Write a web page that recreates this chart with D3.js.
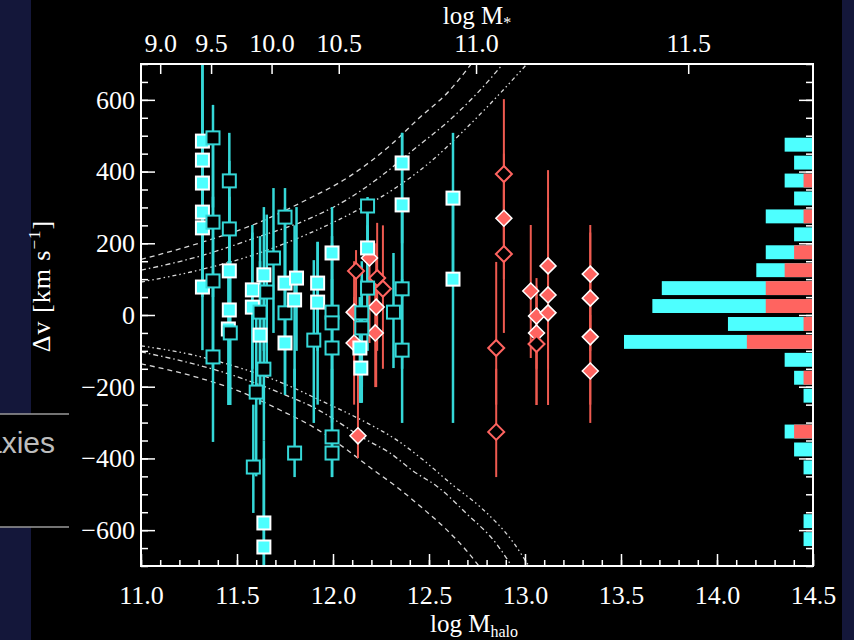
<!DOCTYPE html>
<html><head><meta charset="utf-8">
<script src="https://cdn.jsdelivr.net/npm/d3@7"></script>
<style>body{margin:0;background:#000;overflow:hidden} svg{display:block}</style>
</head><body>
<svg id="c" width="854" height="640"></svg>
<script>
// ---------- data ----------
const xTicks = [11.0, 11.5, 12.0, 12.5, 13.0, 13.5, 14.0, 14.5];
const yTicks = [-600, -400, -200, 0, 200, 400, 600];
const topTickLabels = ["9.0", "9.5", "10.0", "10.5", "11.0", "11.5"];
const topTickHalo = [11.10, 11.365, 11.68, 12.03, 12.745, 13.85];

// cyan squares: [log Mhalo, dv, filled, errLo, errHi]
const cyanPoints = [
  [11.32, 485, 1, 300, 720], [11.32, 432, 1, 250, 700], [11.32, 368, 1, 150, 600],
  [11.32, 287, 1, 100, 500], [11.32, 243, 1, 50, 450], [11.32, 78, 1, -98, 300],
  [11.375, 494, 0, 300, 586], [11.375, 259, 0, 50, 480], [11.375, 95, 0, -150, 330], [11.375, -117, 0, -354, 100],
  [11.46, 374, 0, 230, 508], [11.46, 240, 0, 50, 430], [11.46, 123, 1, -80, 330],
  [11.46, 14, 1, -200, 220], [11.455, -39, 1, -251, 150], [11.465, -50, 0, -251, 150],
  [11.58, 70, 1, -150, 251], [11.58, 22, 1, -200, 230], [11.60, -215, 0, -450, 0], [11.585, -424, 0, -552, -250],
  [11.64, 112, 1, -100, 301], [11.655, 64, 0, -150, 280], [11.62, 8, 0, -200, 220], [11.62, -56, 1, -250, 150],
  [11.64, -151, 0, -350, 50], [11.64, -580, 1, -700, -350], [11.64, -647, 1, -700, -400],
  [11.69, 159, 0, -50, 354],
  [11.75, 273, 0, 100, 354], [11.75, 89, 1, -100, 300], [11.75, 6, 0, -200, 200], [11.75, -78, 1, -223, 100],
  [11.81, 103, 1, -100, 301], [11.80, 42, 1, -200, 250], [11.80, -385, 0, -452, -150],
  [11.92, 89, 1, -100, 204], [11.92, 36, 1, -250, 204], [11.90, -70, 0, -301, 153],
  [11.995, 173, 1, 0, 301], [11.995, 8, 0, -200, 220], [11.995, -22, 0, -250, 200], [11.995, -92, 0, -300, 100],
  [11.995, -340, 0, -452, -150], [11.995, -385, 0, -452, -200],
  [12.18, 304, 0, 100, 329], [12.18, 187, 1, 0, 300], [12.18, 75, 0, -100, 250],
  [12.15, 6, 0, -200, 150], [12.15, -36, 0, -245, 100], [12.14, -92, 1, -245, 50], [12.145, -148, 1, -245, 0],
  [12.36, 424, 1, 200, 508], [12.36, 307, 1, 50, 508], [12.36, 73, 0, -150, 300], [12.36, -98, 0, -301, 100],
  [12.315, 8, 0, -148, 173],
  [12.625, 326, 1, 100, 508], [12.625, 100, 1, -301, 326]
];

// red diamonds: [log Mhalo, dv, filled, errLo, errHi]
const redPoints = [
  [12.12, 123, 0, -50, 181], [12.11, 8, 1, -150, 150], [12.11, -78, 1, -250, 50], [12.13, -337, 1, -399, -150],
  [12.19, 159, 1, -78, 200],
  [12.23, 103, 0, -100, 257], [12.26, 73, 0, -150, 250], [12.225, 22, 1, -201, 200], [12.22, -50, 1, -201, 100],
  [12.85, -92, 0, -250, 148], [12.85, -326, 0, -452, -150],
  [12.89, 393, 0, 200, 602], [12.89, 270, 1, 100, 450], [12.89, 170, 0, -50, 350],
  [13.03, 67, 1, -120, 251],
  [13.06, -3, 1, -150, 103], [13.06, -50, 1, -251, 80], [13.06, -81, 0, -251, 50],
  [13.12, 137, 1, 0, 404], [13.12, 56, 1, -150, 300], [13.12, 6, 1, -251, 200],
  [13.34, 114, 1, -50, 251], [13.34, 47, 1, -100, 230], [13.34, -61, 1, -250, 100], [13.34, -156, 1, -301, 0]
];

// envelope curves: [log Mhalo, dv]
const curveOuterUp = [[11.0,155],[11.3,200],[11.6,255],[11.85,318],[12.09,388],[12.3,474],[12.45,550],[12.6,622],[12.72,700]];
const curveMidUp = [[11.0,125],[11.3,163],[11.6,216],[11.86,265],[12.07,321],[12.245,385],[12.417,460],[12.625,552],[12.766,627],[12.885,700]];
const curveInUp = [[11.0,92],[11.3,125],[11.6,170],[11.865,225],[12.09,282],[12.333,357],[12.505,426],[12.677,512],[12.833,597],[13.01,700]];
const curveInLow = [[11.0,-86],[11.3,-115],[11.5,-145],[11.724,-187],[11.93,-237],[12.177,-301],[12.333,-349],[12.469,-404],[12.625,-475],[12.766,-535],[12.94,-635],[13.02,-700]];
const curveMidLow = [[11.0,-103],[11.3,-140],[11.5,-172],[11.724,-217],[11.896,-257],[12.177,-349],[12.297,-385],[12.417,-435],[12.542,-478],[12.698,-555],[12.854,-640],[12.93,-700]];
const curveOutLow = [[11.0,-136],[11.3,-175],[11.5,-210],[11.724,-265],[11.896,-312],[12.073,-376],[12.19,-424],[12.333,-480],[12.469,-540],[12.594,-600],[12.7,-660],[12.76,-700]];

// histogram of dv (bin lower edge, total count, red count)
const histLo =    [450, 400, 350, 300, 250, 200, 150, 100, 50, 0, -50, -100, -150, -200, -250, -350, -400, -450, -600, -650];
const histTotal = [3,   2,   3,   2,   5,   2,   5,   6,   16, 17, 9,  20,   3,    2,    1,    3,    2,    1,    1,    1];
const histRed =   [0,   0,   1,   0,   1,   0,   2,   3,   5,  5,  1,  7,    0,    1,    0,    2,    0,    0,    0,    0];

// ---------- drawing ----------
const svg = d3.select("#c");
const W = 854, H = 640;
const L = 141, R = 813, T = 64, B = 566;
const x = d3.scaleLinear().domain([11, 14.5]).range([L, R]);
const y = d3.scaleLinear().domain([-700, 700]).range([B, T]);
const serif = "'Liberation Serif','Times New Roman',serif";
const CY = "#4dffff", CYL = "#35d8d8", RD = "#ff6460", RDL = "#ee5a50";

svg.append("rect").attr("width", W).attr("height", H).attr("fill", "#000");
// slide background strips
svg.append("rect").attr("x", 0).attr("y", 0).attr("width", 31).attr("height", H).attr("fill", "#14173a");
svg.append("rect").attr("x", 842).attr("y", 0).attr("width", 12).attr("height", H).attr("fill", "#14173a");
svg.append("rect").attr("x", 0).attr("y", 414).attr("width", 69).attr("height", 113).attr("fill", "#000");
svg.append("line").attr("x1", 0).attr("x2", 69).attr("y1", 414).attr("y2", 414).attr("stroke", "#9a9a9a").attr("stroke-width", 1.5);
svg.append("line").attr("x1", 0).attr("x2", 69).attr("y1", 527).attr("y2", 527).attr("stroke", "#9a9a9a").attr("stroke-width", 1.5);
svg.append("text").attr("x", 55).attr("y", 453).attr("text-anchor", "end")
  .attr("font-family", "'Liberation Sans',Arial,sans-serif").attr("font-size", 30).attr("fill", "#bdbdbd").text("Galaxies");

const plot = svg.append("g");
svg.append("clipPath").attr("id", "clip").append("rect").attr("x", L).attr("y", T).attr("width", R - L).attr("height", B - T);
const inner = plot.append("g").attr("clip-path", "url(#clip)");

// histogram
const hx = d3.scaleLinear().domain([0, 1]).range([0, 9.45]);
const bins = histLo.map((lo, i) => ({lo, total: histTotal[i], red: histRed[i]}));
inner.selectAll(".hc").data(bins).join("rect")
  .attr("x", d => R - hx(d.total)).attr("width", d => hx(d.total))
  .attr("y", d => y(d.lo + 50) + 2).attr("height", d => y(d.lo) - y(d.lo + 50) - 4)
  .attr("fill", CY);
inner.selectAll(".hr").data(bins.filter(d => d.red > 0)).join("rect")
  .attr("x", d => R - hx(d.red)).attr("width", d => hx(d.red))
  .attr("y", d => y(d.lo + 50) + 2).attr("height", d => y(d.lo) - y(d.lo + 50) - 4)
  .attr("fill", RD);

// curves
const line = d3.line().x(d => x(d[0])).y(d => y(d[1])).curve(d3.curveMonotoneX);
const curves = [
  [curveOuterUp, "5,4"], [curveMidUp, "5,3,1.5,3"], [curveInUp, "4,3,1.5,3,1.5,3"],
  [curveInLow, "4,3,1.5,3,1.5,3"], [curveMidLow, "5,3,1.5,3"], [curveOutLow, "5,4"]
];
curves.forEach(([c, dash]) => {
  inner.append("path").attr("d", line(c)).attr("fill", "none")
    .attr("stroke", "#d8d8d8").attr("stroke-width", 1.3).attr("stroke-dasharray", dash);
});

// error bars
inner.selectAll(".ec").data(cyanPoints).join("line")
  .attr("x1", d => x(d[0])).attr("x2", d => x(d[0]))
  .attr("y1", d => y(d[4])).attr("y2", d => y(d[3]))
  .attr("stroke", CYL).attr("stroke-width", 2.5);
inner.selectAll(".er").data(redPoints).join("line")
  .attr("x1", d => x(d[0])).attr("x2", d => x(d[0]))
  .attr("y1", d => y(d[4])).attr("y2", d => y(d[3]))
  .attr("stroke", RDL).attr("stroke-width", 2);

// red diamonds
const dsz = 8;
inner.selectAll(".dr").data(redPoints).join("path")
  .attr("d", d => { const cx = x(d[0]), cy = y(d[1]);
    return `M${cx},${cy - dsz}L${cx + dsz},${cy}L${cx},${cy + dsz}L${cx - dsz},${cy}Z`; })
  .attr("fill", d => d[2] ? RD : "#000")
  .attr("stroke", d => d[2] ? "#fff" : RD)
  .attr("stroke-width", d => d[2] ? 1.5 : 2);

// cyan squares
const s = 13;
inner.selectAll(".sq").data(cyanPoints).join("rect")
  .attr("x", d => x(d[0]) - s / 2).attr("y", d => y(d[1]) - s / 2)
  .attr("width", s).attr("height", s)
  .attr("fill", d => d[2] ? CY : "#000")
  .attr("stroke", d => d[2] ? "#fff" : CYL)
  .attr("stroke-width", 2);

// axes
const FS = 26;
function styleAxis(g) {
  g.select(".domain").remove();
  g.selectAll("line").attr("stroke", "#fff").attr("stroke-width", 1.5);
  g.selectAll("text").attr("fill", "#fff").attr("font-family", serif).attr("font-size", FS);
}
const xMinor = d3.range(11, 14.5001, 0.1);
svg.append("g").attr("transform", `translate(0,${B})`)
  .call(d3.axisBottom(x).tickValues(xMinor).tickSize(-6).tickFormat("")).call(styleAxis);
svg.append("g").attr("transform", `translate(0,${B})`)
  .call(d3.axisBottom(x).tickValues(xTicks).tickSize(-12).tickPadding(20).tickFormat(d3.format(".1f"))).call(styleAxis);

const yMinor = d3.range(-700, 701, 50);
svg.append("g").attr("transform", `translate(${L},0)`)
  .call(d3.axisLeft(y).tickValues(yMinor).tickSize(-7).tickFormat("")).call(styleAxis);
svg.append("g").attr("transform", `translate(${L},0)`)
  .call(d3.axisLeft(y).tickValues(yTicks).tickSize(-14).tickPadding(6).tickFormat(d3.format("d"))).call(styleAxis);
svg.append("g").attr("transform", `translate(${R},0)`)
  .call(d3.axisRight(y).tickValues(yMinor).tickSize(-7).tickFormat("")).call(styleAxis);
svg.append("g").attr("transform", `translate(${R},0)`)
  .call(d3.axisRight(y).tickValues(yTicks).tickSize(-14).tickFormat("")).call(styleAxis);

svg.append("g").attr("transform", `translate(0,${T})`)
  .call(d3.axisTop(x).tickValues(topTickHalo).tickSize(-10).tickPadding(12)
    .tickFormat((d, i) => topTickLabels[i])).call(styleAxis);

// frame
svg.append("rect").attr("x", L).attr("y", T).attr("width", R - L).attr("height", B - T)
  .attr("fill", "none").attr("stroke", "#fff").attr("stroke-width", 2);

// titles
const tb = svg.append("text").attr("x", 474).attr("y", 632).attr("text-anchor", "middle")
  .attr("fill", "#fff").attr("font-family", serif).attr("font-size", 25);
tb.append("tspan").text("log M");
tb.append("tspan").attr("font-size", 16).attr("dy", 5).text("halo");

const tt = svg.append("text").attr("x", 477).attr("y", 24).attr("text-anchor", "middle")
  .attr("fill", "#fff").attr("font-family", serif).attr("font-size", 25);
tt.append("tspan").text("log M");
tt.append("tspan").attr("font-size", 16).attr("dy", 4).text("*");

const ty = svg.append("text").attr("transform", "translate(50,286) rotate(-90)").attr("text-anchor", "middle")
  .attr("fill", "#fff").attr("font-family", serif).attr("font-size", 26).attr("letter-spacing", 1);
ty.append("tspan").text("Δv [km s");
ty.append("tspan").attr("font-size", 17).attr("dy", -10).text("−1");
ty.append("tspan").attr("dy", 10).text("]");
</script>
</body></html>
